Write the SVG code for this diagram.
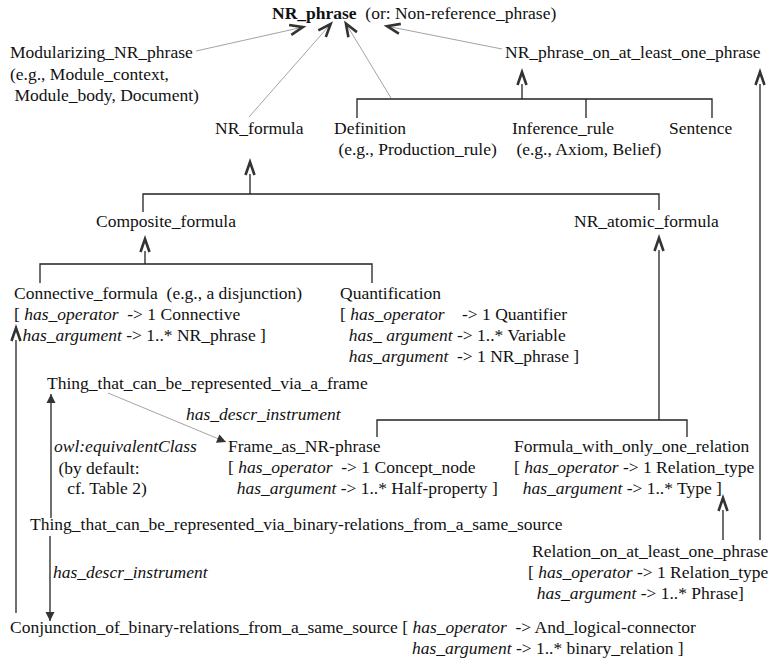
<svg xmlns="http://www.w3.org/2000/svg" width="772" height="665" viewBox="0 0 772 665">
<style>
text{font-family:"Liberation Serif","Times New Roman",serif;font-size:17.5px;fill:#111;white-space:pre}
.b{font-weight:bold}
.i{font-style:italic}
.t{stroke:#222;stroke-width:1.3;fill:none}
.g{stroke:#999;stroke-width:0.9;fill:none}
</style>
<defs>
<marker id="open" markerUnits="userSpaceOnUse" orient="auto" markerWidth="30" markerHeight="30" refX="-12" refY="0" overflow="visible">
<path d="M-13,-4.5 L0,0 L-13,4.5" fill="none" stroke="#333" stroke-width="2.6"/>
</marker>
<marker id="openg" markerUnits="userSpaceOnUse" orient="auto" markerWidth="30" markerHeight="30" refX="-4" refY="0" overflow="visible">
<path d="M-13,-5 L0,0 L-13,5" fill="none" stroke="#333" stroke-width="2.6"/>
</marker>
<marker id="fill" markerUnits="userSpaceOnUse" orient="auto" markerWidth="20" markerHeight="20" refX="0" refY="0" overflow="visible">
<path d="M-9,-4.5 L0,0 L-9,4.5 Z" fill="#333"/>
</marker>
</defs>

<g id="connectors">
<line class="g" x1="196" y1="51" x2="299" y2="28" marker-end="url(#openg)"/>
<line class="g" x1="249" y1="117" x2="328" y2="27" marker-end="url(#openg)"/>
<line class="g" x1="391" y1="98" x2="348" y2="27" marker-end="url(#openg)"/>
<line class="g" x1="502" y1="49" x2="391" y2="27" marker-end="url(#openg)"/>
<path class="t" d="M357,118 V99 H712 V118 M586,99 V118"/>
<line class="t" x1="522" y1="99" x2="522" y2="84" marker-end="url(#open)"/>
<line class="t" x1="760" y1="540" x2="760" y2="84" marker-end="url(#open)"/>
<line class="t" x1="723" y1="540" x2="723" y2="510" marker-end="url(#open)"/>
<path class="t" d="M143,212 V194 H659 V210"/>
<line class="t" x1="250" y1="194" x2="250" y2="174" marker-end="url(#open)"/>
<path class="t" d="M40,283 V264 H372 V283"/>
<line class="t" x1="145" y1="264" x2="145" y2="251" marker-end="url(#open)"/>
<path class="t" d="M377,437 V420 H687 V437"/>
<line class="t" x1="659" y1="420" x2="659" y2="250" marker-end="url(#open)"/>
<line class="t" x1="16" y1="613" x2="16" y2="340" marker-end="url(#open)"/>
<line class="t" x1="51" y1="518" x2="51" y2="394" marker-end="url(#fill)"/>
<line class="t" x1="50" y1="536" x2="50" y2="621" marker-end="url(#fill)"/>
<line class="g" x1="108" y1="393" x2="226" y2="442" marker-end="url(#fill)"/>
</g>

<g id="NR_phrase">
<text x="272" y="19"><tspan class="b">NR_phrase</tspan>  (or: Non-reference_phrase)</text>
</g>
<g id="Modularizing_NR_phrase">
<text x="10" y="58">Modularizing_NR_phrase</text>
<text x="10" y="80">(e.g., Module_context,</text>
<text x="10" y="101"> Module_body, Document)</text>
</g>
<g id="NR_phrase_on_at_least_one_phrase">
<text x="505" y="58">NR_phrase_on_at_least_one_phrase</text>
</g>
<g id="NR_formula"><text x="215" y="134">NR_formula</text></g>
<g id="Definition">
<text x="334" y="134">Definition</text>
<text x="334" y="155"> (e.g., Production_rule)</text>
</g>
<g id="Inference_rule">
<text x="512" y="134">Inference_rule</text>
<text x="512" y="155"> (e.g., Axiom, Belief)</text>
</g>
<g id="Sentence"><text x="669" y="134">Sentence</text></g>
<g id="Composite_formula"><text x="96" y="227">Composite_formula</text></g>
<g id="NR_atomic_formula"><text x="574" y="227">NR_atomic_formula</text></g>
<g id="Connective_formula">
<text x="14" y="299">Connective_formula  (e.g., a disjunction)</text>
<text x="14" y="320">[ <tspan class="i">has_operator</tspan>  -&gt; 1 Connective</text>
<text x="18" y="341"> <tspan class="i">has_argument</tspan> -&gt; 1..* NR_phrase ]</text>
</g>
<g id="Quantification">
<text x="340" y="299">Quantification</text>
<text x="340" y="320">[ <tspan class="i">has_operator</tspan>    -&gt; 1 Quantifier</text>
<text x="340" y="341">  <tspan class="i">has_ argument</tspan> -&gt; 1..* Variable</text>
<text x="340" y="362">  <tspan class="i">has_argument</tspan>  -&gt; 1 NR_phrase ]</text>
</g>
<g id="Thing_frame">
<text x="47" y="389">Thing_that_can_be_represented_via_a_frame</text>
</g>
<g id="labels">
<text class="i" x="186" y="420">has_descr_instrument</text>
<text class="i" x="54" y="452">owl:equivalentClass</text>
<text x="54" y="474"> (by default:</text>
<text x="54" y="494">   cf. Table 2)</text>
<text class="i" x="53" y="578">has_descr_instrument</text>
</g>
<g id="Frame_as_NR-phrase">
<text x="228" y="452">Frame_as_NR-phrase</text>
<text x="228" y="473">[ <tspan class="i">has_operator</tspan>  -&gt; 1 Concept_node</text>
<text x="228" y="494">  <tspan class="i">has_argument</tspan> -&gt; 1..* Half-property ]</text>
</g>
<g id="Formula_with_only_one_relation">
<text x="514" y="452">Formula_with_only_one_relation</text>
<text x="514" y="473">[ <tspan class="i">has_operator</tspan> -&gt; 1 Relation_type</text>
<text x="514" y="494">  <tspan class="i">has_argument</tspan> -&gt; 1..* Type ]</text>
</g>
<g id="Thing_binary">
<text x="30" y="530">Thing_that_can_be_represented_via_binary-relations_from_a_same_source</text>
</g>
<g id="Relation_on_at_least_one_phrase">
<text x="532" y="557">Relation_on_at_least_one_phrase</text>
<text x="528" y="578">[ <tspan class="i">has_operator</tspan> -&gt; 1 Relation_type</text>
<text x="528" y="599">  <tspan class="i">has_argument</tspan> -&gt; 1..* Phrase]</text>
</g>
<g id="Conjunction">
<text x="10" y="633">Conjunction_of_binary-relations_from_a_same_source [ <tspan class="i">has_operator</tspan>  -&gt; And_logical-connector</text>
<text x="412" y="654"><tspan class="i">has_argument</tspan> -&gt; 1..* binary_relation ]</text>
</g>
</svg>
